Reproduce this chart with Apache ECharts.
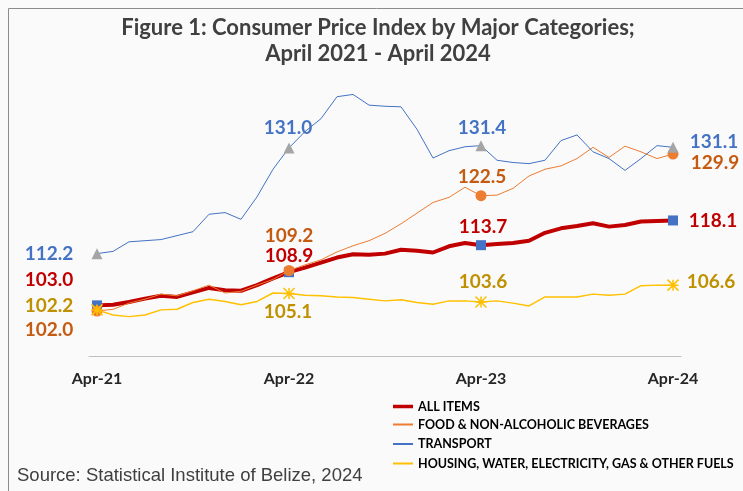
<!DOCTYPE html>
<html>
<head>
<meta charset="utf-8">
<script src="https://cdn.jsdelivr.net/npm/echarts@6/dist/echarts.min.js"></script>
<style>
  html, body { margin: 0; padding: 0; background: #fafafa; }
  #chart { width: 743px; height: 491px; }
</style>
</head>
<body>
<div id="chart"></div>
<script>
// monthly categories, Apr-21 .. Apr-24
const months = [
  'Apr-21', 'May-21', 'Jun-21', 'Jul-21', 'Aug-21', 'Sep-21', 'Oct-21', 'Nov-21', 'Dec-21', 'Jan-22', 'Feb-22', 'Mar-22',
  'Apr-22', 'May-22', 'Jun-22', 'Jul-22', 'Aug-22', 'Sep-22', 'Oct-22', 'Nov-22', 'Dec-22', 'Jan-23', 'Feb-23', 'Mar-23',
  'Apr-23', 'May-23', 'Jun-23', 'Jul-23', 'Aug-23', 'Sep-23', 'Oct-23', 'Nov-23', 'Dec-23', 'Jan-24', 'Feb-24', 'Mar-24',
  'Apr-24'
]

const allItems = [103.0, 103.1, 103.6, 104.2, 104.7, 104.5, 105.3, 106.1, 105.7, 105.6, 106.6, 107.8,
  108.9, 109.7, 110.6, 111.5, 112.1, 112.0, 112.2, 112.9, 112.7, 112.4, 113.5, 114.1,
  113.7, 113.9, 114.1, 114.5, 115.9, 116.7, 117.1, 117.6, 117.0, 117.3, 117.9, 118.0, 118.1]

const food = [102.0, 102.3, 103.4, 104.1, 105.0, 104.7, 105.6, 106.6, 105.2, 105.5, 106.6, 107.6,
  109.2, 110.2, 111.1, 112.5, 113.6, 114.5, 115.8, 117.5, 119.4, 121.3, 122.2, 124.0,
  122.5, 122.6, 123.8, 126.0, 127.2, 127.8, 129.1, 131.1, 129.3, 131.3, 130.3, 129.1, 129.9]

const transport = [112.2, 112.6, 114.3, 114.5, 114.7, 115.4, 116.1, 119.2, 119.5, 118.3, 122.3, 127.2,
  131.0, 133.9, 136.2, 140.1, 140.5, 138.6, 138.4, 138.3, 134.3, 129.2, 130.5, 131.2,
  131.4, 128.8, 128.4, 128.2, 128.8, 132.3, 133.3, 130.3, 129.1, 127.0, 129.1, 131.4, 131.1]

const housing = [102.2, 101.3, 101.0, 101.3, 102.2, 102.3, 103.5, 104.1, 103.7, 103.1, 103.7, 105.2,
  105.1, 104.8, 104.7, 104.5, 104.4, 104.1, 103.8, 104.0, 103.5, 103.2, 103.8, 103.8,
  103.6, 103.8, 103.4, 102.9, 104.5, 104.5, 104.5, 105.0, 104.8, 105.0, 106.5, 106.6, 106.6]

const seriesNames = [
  'ALL ITEMS',
  'FOOD & NON-ALCOHOLIC BEVERAGES',
  'TRANSPORT',
  'HOUSING, WATER, ELECTRICITY, GAS & OTHER FUELS',
]

// April points get a marker + value label
const markIdx = [0, 12, 24, 36]

const makeSeries = (name, values, o) => {
  return {
    name: name,
    type: 'line',
    symbol: 'none',
    z: o.z,
    lineStyle: { color: o.color, width: o.width },
    itemStyle: { color: o.color },
    emphasis: { disabled: true },
    data: values.map((v, i) => {
      const k = markIdx.indexOf(i)
      if (k < 0) return v
      return {
        value: v,
        symbol: o.symbol,
        symbolSize: o.size,
        itemStyle: o.markerStyle,
        label: {
          show: true,
          position: 'inside',
          offset: o.offsets[k],
          formatter: (p) => Number(p.value).toFixed(1),
          color: o.labelColor,
          fontFamily: 'Lato',
          fontWeight: 'bold',
          fontSize: 19,
        },
      }
    }),
  }
}

const legendText = {
  fontFamily: 'Lato',
  fontWeight: 'bold',
  fontSize: 12.5,
  color: '#000',
}

const chart = echarts.init(document.getElementById('chart'), null, { renderer: 'canvas' })

const option = {
  animation: false,
  backgroundColor: '#fafafa',
  title: {
    text: 'Figure 1: Consumer Price Index by Major Categories;\nApril 2021 - April 2024',
    left: 378,
    top: 15,
    padding: 0,
    textAlign: 'center',
    textStyle: {
      fontFamily: 'Lato',
      fontWeight: 'bold',
      fontSize: 22,
      lineHeight: 26,
      color: '#404040',
    },
  },
  graphic: [
    {
      type: 'rect',
      shape: { x: 8.5, y: 8.5, width: 800, height: 600 },
      style: { fill: 'none', stroke: '#8c8c8c', lineWidth: 1 },
      silent: true,
    },
    {
      type: 'text',
      left: 17,
      top: 466,
      style: {
        text: 'Source: Statistical Institute of Belize, 2024',
        fontFamily: 'Liberation Sans',
        fontSize: 18.5,
        fill: '#404040',
      },
    },
  ],
  legend: [
    {
      data: [seriesNames[0]],
      icon: 'rect',
      orient: 'vertical',
      left: 393,
      top: 400,
      padding: 0,
      itemWidth: 20,
      itemHeight: 3.5,
      selectedMode: false,
      textStyle: legendText,
    },
    {
      data: seriesNames.slice(1),
      icon: 'rect',
      orient: 'vertical',
      left: 393,
      top: 418,
      padding: 0,
      itemWidth: 20,
      itemHeight: 2,
      itemGap: 6.5,
      selectedMode: false,
      textStyle: legendText,
    },
  ],
  grid: {
    left: 89,
    right: 62,
    top: 41,
    bottom: 135,
  },
  xAxis: {
    type: 'category',
    data: months,
    boundaryGap: true,
    axisLine: { lineStyle: { color: '#bfbfbf', width: 1 } },
    axisTick: { interval: 11, length: 5, lineStyle: { color: '#bfbfbf' } },
    axisLabel: {
      interval: 11,
      margin: 15,
      fontFamily: 'Lato',
      fontWeight: 'bold',
      fontSize: 16,
      color: '#262626',
    },
  },
  yAxis: {
    type: 'value',
    min: 94,
    max: 150,
    show: false,
  },
  series: [
    makeSeries(seriesNames[0], allItems, {
      color: '#c00000', width: 4, z: 2,
      symbol: 'rect', size: 10, markerStyle: { color: '#4472c4' },
      labelColor: '#c00000',
      offsets: [[-48, -26], [0, -16], [2, -18], [40, 0]],
    }),
    makeSeries(seriesNames[1], food, {
      color: '#ed7d31', width: 1, z: 3,
      symbol: 'circle', size: 11, markerStyle: { color: '#ed7d31' },
      labelColor: '#c55a11',
      offsets: [[-48, 19], [0, -35], [1, -19], [42, 9]],
    }),
    makeSeries(seriesNames[2], transport, {
      color: '#4472c4', width: 1, z: 4,
      symbol: 'triangle', size: 11, markerStyle: { color: '#a5a5a5' },
      labelColor: '#4472c4',
      offsets: [[-48, 0], [-1, -20], [1, -18], [41, -5]],
    }),
    makeSeries(seriesNames[3], housing, {
      color: '#ffc000', width: 1.5, z: 5,
      symbol: 'path://M5,0 L5,10 M0,0 L10,10 M0,10 L10,0 M0,5 L10,5', size: 11,
      markerStyle: { color: 'none', borderColor: '#ffc000', borderWidth: 1.5 },
      labelColor: '#bf9000',
      offsets: [[-48, -4], [-1, 18], [2, -20], [38, -3]],
    }),
  ],
}

chart.setOption(option)
</script>
</body>
</html>
